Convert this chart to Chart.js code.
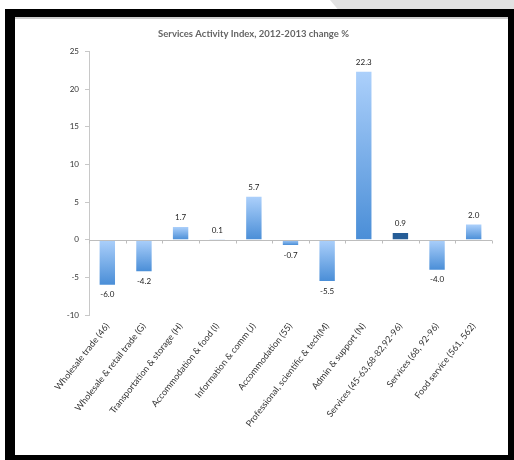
<!DOCTYPE html>
<html>
<head>
<meta charset="utf-8">
<script src="https://cdn.jsdelivr.net/npm/chart.js@4.4.0/dist/chart.umd.min.js"></script>
<style>
  html, body { margin: 0; padding: 0; background: #fff; }
  body { width: 514px; height: 460px; position: relative; overflow: hidden; }
  #shade { position: absolute; left: 330px; top: -10px; width: 260px; height: 20px; background: #e2e2e2; transform: skewX(40deg); }
  #frame { position: absolute; left: 5px; top: 9px; width: 509px; height: 451px; background: #000; }
  #inner { position: absolute; left: 10px; top: 8px; width: 493px; height: 438px; background: #fff; border-top: 2px solid #ccc; box-sizing: border-box; }
  canvas { position: absolute; left: 0; top: 0; }
</style>
</head>
<body>
<div id="shade"></div>
<div id="frame"><div id="inner"><canvas id="c" width="493" height="436"></canvas></div></div>
<script>
const categories = [
  'Wholesale trade (46)',
  'Wholesale & retail trade (G)',
  'Transportation & storage (H)',
  'Accommodation & food (I)',
  'Information & comm (J)',
  'Accommodation (55)',
  'Professional, scientific & tech(M)',
  'Admin & support (N)',
  'Services (45-63,68-82,92-96)',
  'Services (68, 92-96)',
  'Food service (561, 562)'
];
const changePct = [-6.0, -4.2, 1.7, 0.1, 5.7, -0.7, -5.5, 22.3, 0.9, -4.0, 2.0];
const highlightIndex = 8;
const yTicks = { min: -10, max: 25, step: 5 };

const FONT = 'Lato, "Open Sans", sans-serif';

function barFill(c) {
  const chart = c.chart;
  if (c.dataIndex === highlightIndex) return '#265d97';
  const y = chart.scales.y;
  if (!y) return '#7fb2ec';
  const v = c.raw;
  const top = y.getPixelForValue(Math.max(v, 0));
  const bot = y.getPixelForValue(Math.min(v, 0));
  if (!isFinite(top) || !isFinite(bot) || bot - top < 1) return '#a9cdfa';
  const g = chart.ctx.createLinearGradient(0, top, 0, bot);
  g.addColorStop(0, '#acd0fb');
  g.addColorStop(1, '#4a8ed7');
  return g;
}

const zeroLine = {
  id: 'zeroLine',
  afterDatasetsDraw(chart) {
    const {ctx, chartArea, scales: {x, y}} = chart;
    const y0 = Math.round(y.getPixelForValue(0)) + 0.5;
    ctx.save();
    ctx.strokeStyle = '#bdbdbd';
    ctx.lineWidth = 1;
    ctx.beginPath();
    ctx.moveTo(chartArea.left, y0);
    ctx.lineTo(chartArea.right, y0);
    const step = x.getPixelForValue(1) - x.getPixelForValue(0);
    for (let i = 0; i <= categories.length; i++) {
      const px = Math.round(x.getPixelForValue(i) - step / 2) + 0.5;
      ctx.moveTo(px, y0);
      ctx.lineTo(px, y0 + 3);
    }
    ctx.stroke();
    // value labels
    ctx.fillStyle = '#222';
    ctx.font = '8px ' + FONT;
    ctx.textAlign = 'center';
    const meta = chart.getDatasetMeta(0);
    meta.data.forEach((bar, i) => {
      const v = changePct[i];
      if (v >= 0) {
        ctx.textBaseline = 'bottom';
        ctx.fillText(v.toFixed(1), bar.x, bar.y - 5);
      } else {
        ctx.textBaseline = 'top';
        ctx.fillText(v.toFixed(1), bar.x, bar.y + 6);
      }
    });
    ctx.restore();
  }
};

new Chart(document.getElementById('c'), {
  type: 'bar',
  data: {
    labels: categories,
    datasets: [{
      data: changePct,
      backgroundColor: barFill,
      barPercentage: 0.42,
      categoryPercentage: 1
    }]
  },
  options: {
    responsive: false,
    animation: false,
    devicePixelRatio: 1,
    layout: { padding: { left: 0, right: 16, top: 9, bottom: 0 } },
    plugins: {
      legend: { display: false },
      tooltip: { enabled: false },
      title: {
        display: true,
        text: 'Services Activity Index, 2012-2013 change %',
        color: '#646464',
        font: { family: FONT, size: 9.5, weight: 'bold' },
        padding: { top: 0, bottom: 12 }
      }
    },
    scales: {
      x: {
        offset: true,
        border: { display: false },
        grid: { display: false, drawTicks: false },
        ticks: {
          autoSkip: false,
          maxRotation: 52,
          minRotation: 52,
          padding: 6,
          color: '#333',
          font: { family: FONT, size: 9 }
        },
        afterFit(s) { s.height = 140; }
      },
      y: {
        min: yTicks.min,
        max: yTicks.max,
        border: { display: true, color: '#c8c8c8' },
        grid: { drawOnChartArea: false, drawTicks: true, tickLength: 4, color: '#c8c8c8' },
        ticks: {
          stepSize: yTicks.step,
          padding: 6,
          color: '#333',
          font: { family: FONT, size: 8 }
        },
        afterFit(s) { s.width = 74; }
      }
    }
  },
  plugins: [zeroLine]
});
</script>
</body>
</html>
